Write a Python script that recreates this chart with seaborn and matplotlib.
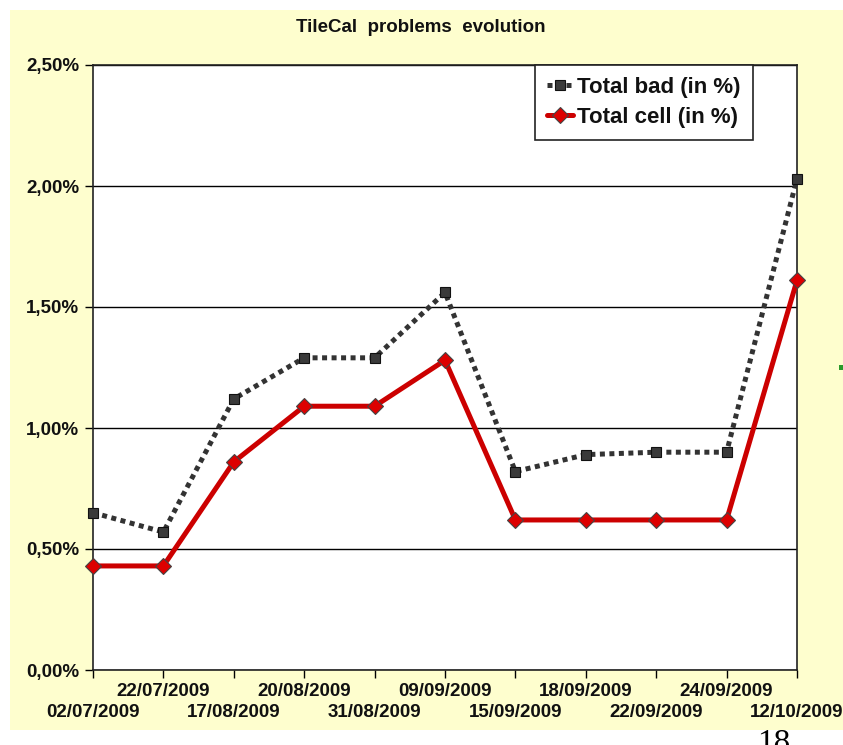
import numpy as np
import pandas as pd
import matplotlib
matplotlib.use("Agg")
import matplotlib.pyplot as plt
import seaborn as sns
from matplotlib.patches import Rectangle

# ---- data ----
dates = ["02/07/2009", "22/07/2009", "17/08/2009", "20/08/2009", "31/08/2009",
         "09/09/2009", "15/09/2009", "18/09/2009", "22/09/2009", "24/09/2009",
         "12/10/2009"]
total_bad = [0.65, 0.57, 1.12, 1.29, 1.29, 1.56, 0.82, 0.89, 0.90, 0.90, 2.03]
total_cell = [0.43, 0.43, 0.86, 1.09, 1.09, 1.28, 0.62, 0.62, 0.62, 0.62, 1.61]
y_ticks = [0.0, 0.5, 1.0, 1.5, 2.0, 2.5]
y_tick_labels = ["0,00%", "0,50%", "1,00%", "1,50%", "2,00%", "2,50%"]
series_names = ["Total bad (in %)", "Total cell (in %)"]
title = "TileCal  problems  evolution"

sns.set_theme(style="white")
plt.rcParams['font.family'] = ['Liberation Sans', 'DejaVu Sans']

W, H = 843, 745
fig = plt.figure(figsize=(W / 100, H / 100), dpi=100)
fig.patch.set_facecolor("white")

# yellow slide background
fig.patches.append(Rectangle((10 / W, 1 - 730 / H), 1 - 10 / W, (730 - 10) / H,
                             transform=fig.transFigure, facecolor="#FEFECE",
                             edgecolor="none", zorder=-2))
# small green artefact at right edge
fig.patches.append(Rectangle((839 / W, 1 - 370 / H), 4 / W, 5 / H,
                             transform=fig.transFigure, facecolor="#2a9a2a",
                             edgecolor="none", zorder=-1))

ax = fig.add_axes([93 / W, 1 - 670 / H, (797 - 93) / W, (670 - 65) / H])
ax.set_facecolor("white")

pos = list(range(len(dates)))
df = pd.DataFrame({"pos": pos, series_names[0]: total_bad, series_names[1]: total_cell})

sns.lineplot(data=df, x="pos", y=series_names[0], ax=ax, color="#333333",
             lw=3.6, linestyle=(0, (1, 0.9)), marker="s", markersize=7,
             markerfacecolor="#3a3a3a", markeredgecolor="#111111",
             markeredgewidth=0.8, label=series_names[0], zorder=3, clip_on=False)
sns.lineplot(data=df, x="pos", y=series_names[1], ax=ax, color="#CC0000",
             lw=3.6, marker="D", markersize=8.5, markerfacecolor="#DD0000",
             markeredgecolor="#444444", markeredgewidth=0.8,
             label=series_names[1], zorder=4, clip_on=False)

ax.set_xlim(0, len(dates) - 1)
ax.set_ylim(0, 2.5)
ax.set_yticks(y_ticks, labels=y_tick_labels)
odd = [p for p in pos if p % 2 == 1]
even = [p for p in pos if p % 2 == 0]
ax.set_xticks(odd, labels=[dates[i] for i in odd])
ax.set_xticks(even, labels=[dates[i] for i in even], minor=True)
ax.set_xlabel("")
ax.set_ylabel("")

ax.tick_params(axis="both", which="both", bottom=True, left=True, direction="out",
               length=6, width=1, color="black", labelcolor="#111111")
ax.tick_params(axis="x", which="major", pad=3.5, labelsize=13.5)
ax.tick_params(axis="x", which="minor", pad=18.5, labelsize=13.5)
ax.tick_params(axis="y", pad=4, labelsize=13.5)
for lab in ax.get_xticklabels(which="both") + ax.get_yticklabels():
    lab.set_fontweight("bold")

ax.yaxis.grid(True, color="black", lw=1)
ax.xaxis.grid(False)
ax.set_axisbelow(True)
for s in ax.spines.values():
    s.set_color("#222222")
    s.set_linewidth(1.2)

leg = ax.legend(loc="upper right", bbox_to_anchor=((753 - 93) / 704, 1.0),
                frameon=True, fancybox=False, framealpha=1, edgecolor="#222222",
                prop={"weight": "bold", "size": 16}, handlelength=1.15,
                handletextpad=0.2, borderpad=0.55, labelspacing=0.4,
                borderaxespad=0)
leg.get_frame().set_linewidth(1.2)
leg.set_zorder(10)
for t in leg.get_texts():
    t.set_color("#111111")

fig.text(421 / W, 1 - 28 / H, title, ha="center", va="center",
         fontsize=13.5, fontweight="bold", color="#111111")

fig.text(774 / W, 1 - 752 / H, "18", ha="center", va="baseline",
         fontsize=24, family="Liberation Serif", color="black")

fig.savefig("out.png", dpi=100, facecolor="white")
